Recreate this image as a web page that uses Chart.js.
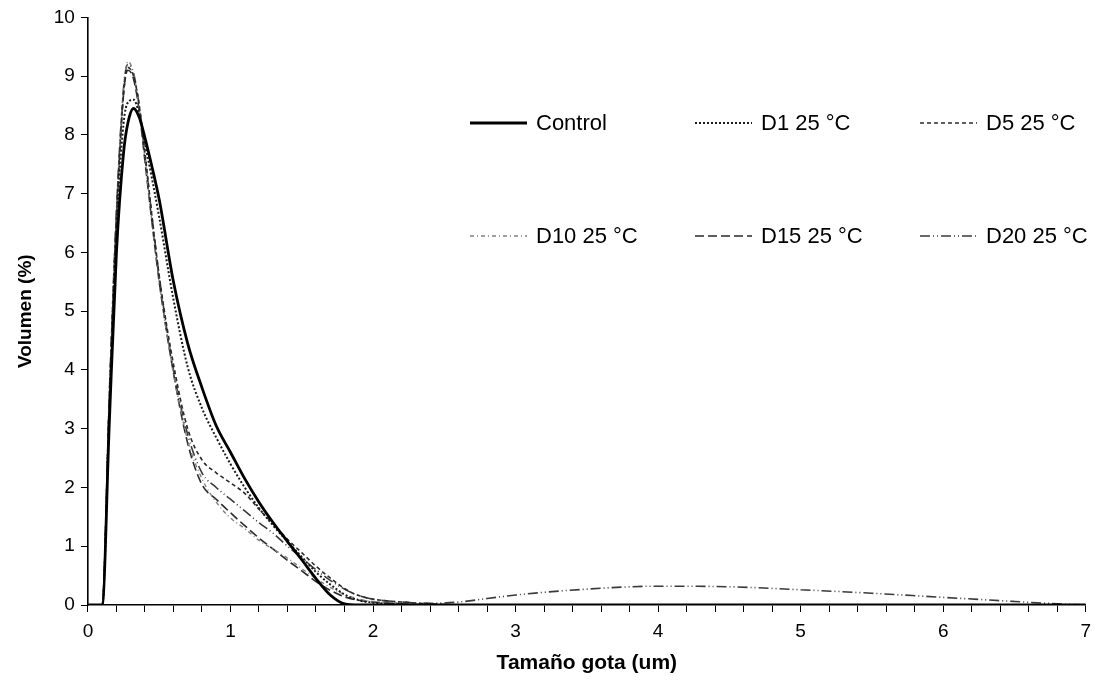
<!DOCTYPE html>
<html>
<head>
<meta charset="utf-8">
<script src="https://cdn.jsdelivr.net/npm/chart.js@4/dist/chart.umd.min.js"></script>
<style>
  html, body { margin: 0; padding: 0; background: #fff; }
  #wrap { width: 1099px; height: 681px; }
</style>
</head>
<body>
<div id="wrap"><canvas id="chart" width="1099" height="681"></canvas></div>
<script>
// tamaño de gota (um)
const sizes = [0, 0.1, 0.15, 0.2, 0.25, 0.28, 0.32, 0.36, 0.4, 0.45,
               0.5, 0.6, 0.7, 0.8, 0.9, 1.0, 1.1, 1.2, 1.3, 1.4,
               1.5, 1.6, 1.7, 1.8, 1.9, 2.0, 2.2, 2.4, 2.6, 2.8,
               3.0, 3.5, 4.0, 4.5, 5.0, 5.5, 6.0, 6.5, 6.8, 7.0];

// volumen (%)
const control = [0, 0, 3.1, 6.0, 7.7, 8.2, 8.45, 8.3, 7.95, 7.45,
                 6.9, 5.5, 4.45, 3.7, 3.05, 2.6, 2.15, 1.75, 1.4, 1.08,
                 0.77, 0.45, 0.17, 0.02, 0, 0, 0, 0, 0, 0,
                 0, 0, 0, 0, 0, 0, 0, 0, 0, 0];
const d1 = [0, 0, 3.3, 6.4, 8.2, 8.55, 8.6, 8.35, 7.85, 7.25,
            6.6, 5.2, 4.05, 3.35, 2.85, 2.4, 2.0, 1.65, 1.35, 1.08,
            0.82, 0.56, 0.35, 0.18, 0.08, 0.04, 0.01, 0, 0, 0,
            0, 0, 0, 0, 0, 0, 0, 0, 0, 0];
const d5 = [0, 0, 3.5, 6.6, 8.7, 9.15, 9.0, 8.5, 7.7, 6.6,
            5.6, 4.1, 3.0, 2.47, 2.25, 2.08, 1.9, 1.63, 1.38, 1.12,
            0.89, 0.66, 0.46, 0.28, 0.16, 0.1, 0.05, 0.02, 0, 0,
            0, 0, 0, 0, 0, 0, 0, 0, 0, 0];
const d10 = [0, 0, 3.6, 6.7, 8.8, 9.25, 9.05, 8.45, 7.6, 6.5,
             5.5, 3.95, 2.8, 2.15, 1.75, 1.48, 1.3, 1.1, 0.95, 0.8,
             0.62, 0.45, 0.3, 0.18, 0.1, 0.06, 0.03, 0.01, 0, 0,
             0, 0, 0, 0, 0, 0, 0, 0, 0, 0];
const d15 = [0, 0, 3.5, 6.6, 8.7, 9.1, 8.95, 8.4, 7.55, 6.5,
             5.5, 3.95, 2.75, 2.05, 1.8, 1.57, 1.35, 1.14, 0.95, 0.76,
             0.58, 0.4, 0.25, 0.14, 0.08, 0.05, 0.02, 0, 0, 0,
             0, 0, 0, 0, 0, 0, 0, 0, 0, 0];
const d20 = [0, 0, 3.6, 6.7, 8.8, 9.2, 9.05, 8.5, 7.65, 6.6,
             5.6, 4.0, 2.9, 2.25, 2.0, 1.8, 1.6, 1.4, 1.22, 1.0,
             0.8, 0.6, 0.42, 0.27, 0.16, 0.1, 0.05, 0.03, 0.05, 0.11,
             0.17, 0.27, 0.32, 0.31, 0.26, 0.2, 0.13, 0.06, 0.02, 0];

const seriesNames = ['Control', 'D1 25 °C', 'D5 25 °C', 'D10 25 °C', 'D15 25 °C', 'D20 25 °C'];
const seriesValues = [control, d1, d5, d10, d15, d20];
const seriesStyles = [
    {color: '#000', width: 2.8, dash: []},
    {color: '#1a1a1a', width: 2, dash: [2, 2]},
    {color: '#2a2a2a', width: 1.6, dash: [4, 3]},
    {color: '#808080', width: 1.4, dash: [4, 3, 1, 3]},
    {color: '#2a2a2a', width: 1.6, dash: [9, 4]},
    {color: '#3a3a3a', width: 1.6, dash: [10, 3, 1, 3, 1, 3]}
];

const FONT = '"Liberation Sans", Arial, sans-serif';

const datasets = seriesNames.map((name, i) => ({
    label: name,
    data: sizes.map((x, j) => ({x: x, y: seriesValues[i][j]})),
    borderColor: seriesStyles[i].color,
    borderWidth: seriesStyles[i].width,
    borderDash: seriesStyles[i].dash,
    pointRadius: 0,
    fill: false,
    cubicInterpolationMode: 'monotone'
}));

// leyenda en 2 filas x 3 columnas dentro del área del gráfico
const gridLegend = {
    id: 'gridLegend',
    afterDraw(chart) {
        const ctx = chart.ctx;
        const cols = [470, 695, 920];
        const rows = [123, 236];
        ctx.save();
        ctx.font = '22px ' + FONT;
        ctx.textBaseline = 'middle';
        ctx.fillStyle = '#000';
        chart.data.datasets.forEach((ds, i) => {
            const x = cols[i % 3];
            const y = rows[Math.floor(i / 3)];
            ctx.beginPath();
            ctx.strokeStyle = ds.borderColor;
            ctx.lineWidth = ds.borderWidth;
            ctx.setLineDash(ds.borderDash);
            ctx.moveTo(x, y);
            ctx.lineTo(x + 57, y);
            ctx.stroke();
            ctx.setLineDash([]);
            ctx.fillText(ds.label, x + 66, y + 1);
        });
        ctx.restore();
    }
};

new Chart(document.getElementById('chart'), {
    type: 'line',
    data: {datasets: datasets},
    options: {
        responsive: false,
        animation: false,
        layout: {padding: {top: 5, right: 4, left: 14, bottom: 5}},
        plugins: {
            legend: {display: false},
            tooltip: {enabled: false}
        },
        scales: {
            x: {
                type: 'linear',
                min: 0,
                max: 7,
                grid: {drawOnChartArea: false, drawTicks: true, tickLength: 7, color: '#000', lineWidth: 1},
                border: {color: '#000', width: 1.6},
                ticks: {
                    stepSize: 0.2,
                    autoSkip: false,
                    maxRotation: 0,
                    color: '#000',
                    padding: 8,
                    font: {family: FONT, size: 19},
                    callback: v => Math.abs(v - Math.round(v)) < 1e-6 ? String(Math.round(v)) : ''
                },
                title: {
                    display: true,
                    text: 'Tamaño gota (um)',
                    color: '#000',
                    font: {family: FONT, size: 21, weight: 'bold'},
                    padding: {top: 0, bottom: 0}
                }
            },
            y: {
                min: 0,
                max: 10,
                grid: {drawOnChartArea: false, drawTicks: true, tickLength: 7, color: '#000', lineWidth: 1},
                border: {color: '#000', width: 1.6},
                ticks: {
                    stepSize: 1,
                    color: '#000',
                    padding: 6,
                    font: {family: FONT, size: 19}
                },
                title: {
                    display: true,
                    text: 'Volumen (%)',
                    color: '#000',
                    font: {family: FONT, size: 19, weight: 'bold'},
                    padding: {top: 0, bottom: 11}
                }
            }
        }
    },
    plugins: [gridLegend]
});
</script>
</body>
</html>
